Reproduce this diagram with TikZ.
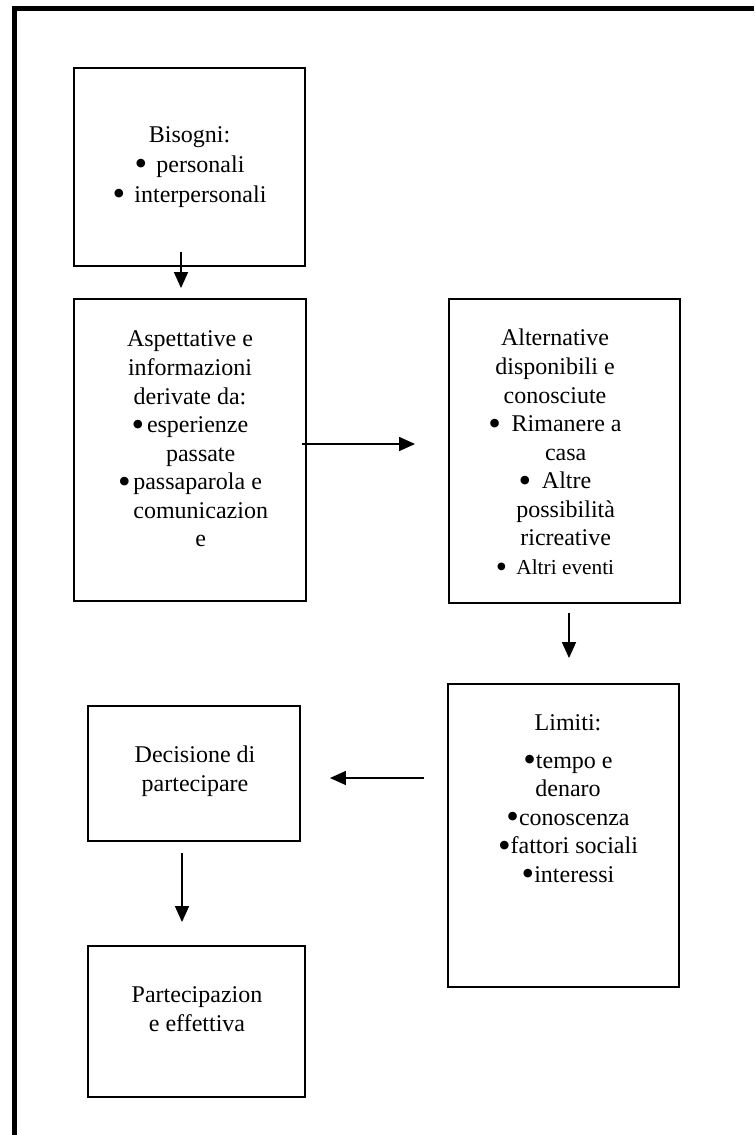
\documentclass[tikz,border=0pt]{standalone}
\usepackage{fontspec}
\setmainfont{Liberation Serif}
\usetikzlibrary{arrows.meta, calc}
\newcommand{\bul}{\raisebox{-2.6pt}{\scalebox{1.5}{\textbullet}}}

\begin{document}
\begin{tikzpicture}[x=0.75pt, y=0.75pt,
    box/.style={draw, line width=1.4pt, inner sep=0pt},
    txt/.style={align=center, inner sep=0pt, font=\fontsize{18}{21.4}\selectfont},
    arr/.style={-{Triangle[length=12pt, width=10.5pt]}, line width=1.1pt}]
    \useasboundingbox (0,0) rectangle (754,-1135);

    % frame round the page
    \draw[line width=3.75pt] (14,-1135) -- (14,-8) -- (754,-8);

    % boxes
    \node[box, minimum width=173.25pt, minimum height=148.5pt] (bisogni) at (189.5,-167) {};
    \node[box, minimum width=174pt, minimum height=226.5pt] (aspettative) at (190,-450) {};
    \node[box, minimum width=173.25pt, minimum height=228pt] (alternative) at (564.5,-451) {};
    \node[box, minimum width=173.25pt, minimum height=227.25pt] (limiti) at (563.5,-835.5) {};
    \node[box, minimum width=159pt, minimum height=101.25pt] (decisione) at (194,-773.5) {};
    \node[box, minimum width=162.75pt, minimum height=113.25pt] (partecipazione) at (196.5,-1021.5) {};

    % texts in the boxes
    \node[txt, font=\fontsize{18}{22.5}\selectfont] (bisogni-t) at (189.5,-167)
      {Bisogni:\\ \bul\hspace{7pt}personali\\ \bul\hspace{7pt}interpersonali};
    \node[txt] (aspettative-t) at (190,-439)
      {Aspettative e\\ informazioni\\ derivate da:\\ \bul\hspace{2pt}esperienze\\
       \hspace*{16pt}passate\\ \bul\hspace{2pt}passaparola e\\
       \hspace*{16pt}comunicazion\\ \hspace*{16pt}e};
    \node[txt] (alternative-t) at (555,-453.5)
      {Alternative\\ disponibili e\\ conosciute\\ \bul\hspace{8pt}Rimanere a\\
       \hspace*{16pt}casa\\ \bul\hspace{8pt}Altre\\ \hspace*{16pt}possibilità\\
       \hspace*{16pt}ricreative\\ {\fontsize{16}{21}\selectfont\bul\hspace{7pt}Altri eventi}};
    \node[txt] (limiti-t) at (568,-800)
      {Limiti:\\[7pt] \bul tempo e\\ denaro\\ \bul conoscenza\\
       \bul fattori sociali\\ \bul interessi};
    \node[txt] (decisione-t) at (195,-771) {Decisione di\\ partecipare};
    \node[txt] (partecipazione-t) at (197,-1009) {Partecipazion\\ e effettiva};

    % arrows
    \draw[arr] ($(bisogni.south)+(-8.5,15)$) -- ($(aspettative.north)+(-9,10)$);
    \draw[arr] ($(aspettative.east)+(-5,6)$) -- ($(alternative.west)+(-33,7)$);
    \draw[arr] ($(alternative.south)+(4.5,-9)$) -- ($(limiti.north)+(5.5,25)$);
    \draw[arr] ($(limiti.west)+(-23,57.5)$) -- ($(decisione.east)+(29,-4.5)$);
    \draw[arr] ($(decisione.south)+(-12,-11)$) -- ($(partecipazione.north)+(-14.5,23)$);
\end{tikzpicture}
\end{document}
